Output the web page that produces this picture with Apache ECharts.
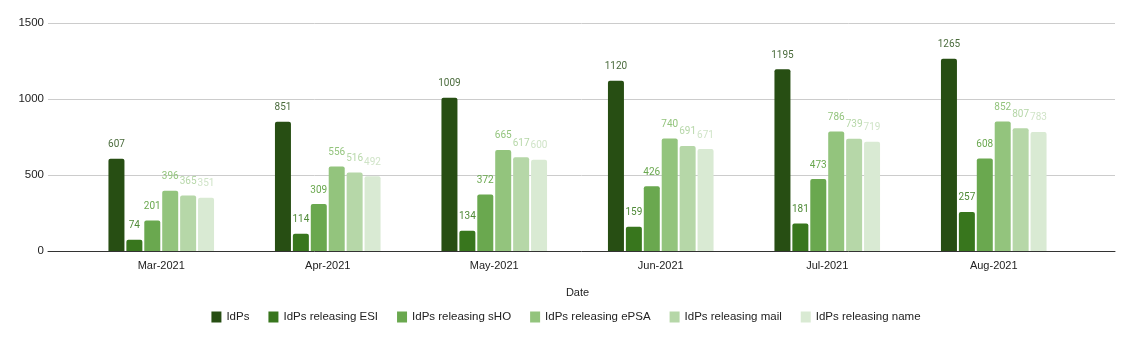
<!DOCTYPE html>
<html>
<head>
<meta charset="utf-8">
<script src="https://cdn.jsdelivr.net/npm/echarts@6/dist/echarts.min.js"></script>
<style>
  html, body { margin: 0; padding: 0; background: #fff; }
  #chart { width: 1132px; height: 340px; }
</style>
</head>
<body>
<div id="chart"></div>
<script>
// Monthly counts of identity providers and the attributes they release
const categories = ['Mar-2021', 'Apr-2021', 'May-2021', 'Jun-2021', 'Jul-2021', 'Aug-2021'];
const seriesNames = ['IdPs', 'IdPs releasing ESI', 'IdPs releasing sHO', 'IdPs releasing ePSA', 'IdPs releasing mail', 'IdPs releasing name'];
const idps          = [607, 851, 1009, 1120, 1195, 1265];
const releasingESI  = [74, 114, 134, 159, 181, 257];
const releasingSHO  = [201, 309, 372, 426, 473, 608];
const releasingEPSA = [396, 556, 665, 740, 786, 852];
const releasingMail = [365, 516, 617, 691, 739, 807];
const releasingName = [351, 492, 600, 671, 719, 783];
const yTicks = [0, 500, 1000, 1500];

const seriesData = [idps, releasingESI, releasingSHO, releasingEPSA, releasingMail, releasingName];
const colors = ['#274e13', '#38761d', '#6aa84f', '#93c47d', '#b6d7a8', '#d9ead3'];
const labelColors = ['#4a6b3c', '#4f8a37', '#6aa84f', '#93c47d', '#b6d7a8', '#d0e4c8'];

const axisFont = 'Liberation Sans, Arial, sans-serif';

const chart = echarts.init(document.getElementById('chart'), null, { renderer: 'canvas' });

chart.setOption({
  animation: false,
  color: colors,
  grid: [
    { left: 48, right: 17, top: 23, bottom: 89 },
    { left: 78, right: 55, top: 23, bottom: 89 }
  ],
  legend: {
    data: seriesNames,
    left: 'center',
    top: 306,
    itemWidth: 10,
    itemHeight: 11,
    itemGap: 19,
    icon: 'rect',
    textStyle: { fontFamily: axisFont, fontSize: 11.5, color: '#222' }
  },
  xAxis: [
    {
      gridIndex: 0,
      type: 'category',
      data: categories,
      axisLine: { show: true, lineStyle: { color: '#333', width: 1 } },
      axisTick: { show: false },
      axisLabel: { show: false },
      splitLine: { show: false }
    },
    {
      gridIndex: 1,
      type: 'category',
      data: categories,
      name: 'Date',
      nameLocation: 'middle',
      nameGap: 36,
      nameTextStyle: { fontFamily: axisFont, fontSize: 11, color: '#222' },
      axisLine: { show: false },
      axisTick: { show: false },
      axisLabel: { fontFamily: axisFont, fontSize: 11, color: '#222', margin: 9 }
    }
  ],
  yAxis: [
    {
      gridIndex: 0,
      type: 'value',
      min: yTicks[0],
      max: yTicks[yTicks.length - 1],
      interval: 500,
      axisLine: { show: false },
      axisTick: { show: false },
      axisLabel: {
        fontFamily: axisFont, fontSize: 11.5, color: '#222', margin: 4,
        formatter: (v) => String(v)
      },
      splitLine: { lineStyle: { color: '#cccccc', width: 1 } }
    },
    {
      gridIndex: 1,
      type: 'value',
      min: yTicks[0],
      max: yTicks[yTicks.length - 1],
      interval: 500,
      show: false
    }
  ],
  series: seriesNames.map((name, i) => ({
    name: name,
    type: 'bar',
    xAxisIndex: 1,
    yAxisIndex: 1,
    data: seriesData[i],
    barWidth: 16,
    barGap: '12%',
    itemStyle: { color: colors[i], borderRadius: [2, 2, 0, 0] },
    label: {
      show: true,
      position: 'top',
      distance: 9,
      fontFamily: 'Roboto, sans-serif',
      fontSize: 10,
      color: labelColors[i]
    }
  }))
});
</script>
</body>
</html>
